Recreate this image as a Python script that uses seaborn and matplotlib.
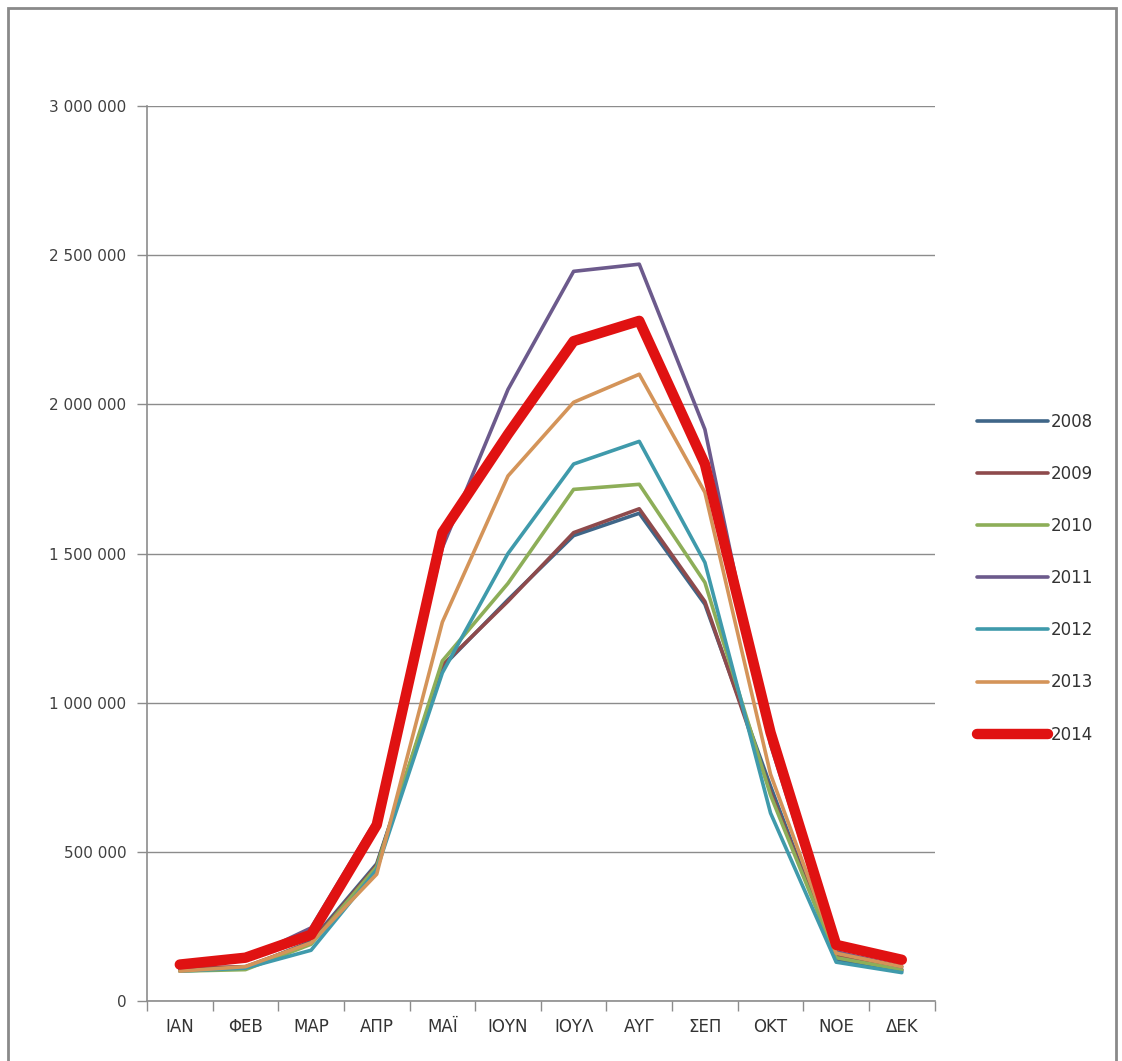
import matplotlib
matplotlib.use("Agg")
import matplotlib.pyplot as plt
import matplotlib.ticker as mticker
from matplotlib.patches import Rectangle
import pandas as pd
import seaborn as sns

months = ["ΙΑΝ", "ΦΕΒ", "ΜΑΡ", "ΑΠΡ", "ΜΑΪ", "ΙΟΥΝ", "ΙΟΥΛ", "ΑΥΓ", "ΣΕΠ", "ΟΚΤ", "ΝΟΕ", "ΔΕΚ"]
years = ["2008", "2009", "2010", "2011", "2012", "2013", "2014"]

arrivals_2008 = [105000, 110000, 200000, 460000, 1120000, 1345000, 1560000, 1635000, 1330000, 720000, 140000, 100000]
arrivals_2009 = [110000, 115000, 195000, 455000, 1125000, 1340000, 1570000, 1650000, 1339000, 700000, 150000, 105000]
arrivals_2010 = [100000, 105000, 190000, 450000, 1140000, 1400000, 1715000, 1732000, 1403000, 690000, 145000, 105000]
arrivals_2011 = [120000, 140000, 245000, 610000, 1520000, 2050000, 2446000, 2470000, 1916000, 860000, 165000, 115000]
arrivals_2012 = [100000, 110000, 170000, 440000, 1100000, 1500000, 1800000, 1876000, 1470000, 630000, 130000, 95000]
arrivals_2013 = [100000, 115000, 195000, 425000, 1270000, 1760000, 2007000, 2101000, 1705000, 760000, 160000, 115000]
arrivals_2014 = [122000, 145000, 222000, 590000, 1570000, 1900000, 2212000, 2280000, 1800000, 900000, 188000, 138000]

series = [arrivals_2008, arrivals_2009, arrivals_2010, arrivals_2011,
          arrivals_2012, arrivals_2013, arrivals_2014]

colors = {
    "2008": "#3F6688",
    "2009": "#8E4A4C",
    "2010": "#8DAE58",
    "2011": "#6C5A8C",
    "2012": "#3F9AAB",
    "2013": "#D49459",
    "2014": "#E01212",
}
widths = {y: 2.6 for y in years}
widths["2014"] = 7.5

df = pd.DataFrame({
    "month": months * len(years),
    "year": [y for y in years for _ in months],
    "arrivals": [v for s in series for v in s],
})

sns.set_theme(style="white")
plt.rcParams["font.family"] = ["DejaVu Sans"]

fig = plt.figure(figsize=(11.22, 10.61), dpi=100)
ax = fig.add_axes([0.131, 0.0566, 0.702, 0.8434])

for y in years:
    sub = df[df["year"] == y]
    sns.lineplot(data=sub, x="month", y="arrivals", ax=ax, color=colors[y],
                 linewidth=widths[y], label=y, sort=False,
                 solid_joinstyle="round", solid_capstyle="round")

ax.set_xlim(-0.5, len(months) - 0.5)
ax.set_ylim(0, 3000000)
ax.set_xlabel("")
ax.set_ylabel("")

ax.yaxis.set_major_locator(mticker.MultipleLocator(500000))
ax.yaxis.set_major_formatter(mticker.FuncFormatter(
    lambda v, p: f"{int(v):,}".replace(",", " ")))
ax.grid(axis="y", color="#8c8c8c", linewidth=1.0)
ax.set_axisbelow(True)

ax.set_xticks(range(len(months)))
ax.set_xticklabels(months)
ax.xaxis.set_minor_locator(mticker.FixedLocator([i - 0.5 for i in range(len(months) + 1)]))
ax.tick_params(axis="x", which="major", length=0, pad=12, labelsize=12, labelcolor="#333333")
ax.tick_params(axis="x", which="minor", length=7, width=1, color="#8c8c8c", direction="out")
ax.tick_params(axis="y", which="major", length=7, width=1, color="#8c8c8c", direction="out",
               pad=8, labelsize=11, labelcolor="#404040")
ax.xaxis.set_ticks_position("bottom")
ax.yaxis.set_ticks_position("left")

for side in ["top", "right"]:
    ax.spines[side].set_visible(False)
for side in ["left", "bottom"]:
    ax.spines[side].set_color("#8c8c8c")
    ax.spines[side].set_linewidth(1.2)

leg = ax.legend(loc="upper left", bbox_to_anchor=(1.045, 0.665), frameon=False,
                fontsize=12, handlelength=4.3, handletextpad=0.15,
                labelspacing=2.05, borderaxespad=0)
for t in leg.get_texts():
    t.set_color("#333333")

fig.patches.append(Rectangle((0.007, -0.05), 0.988, 1.042, transform=fig.transFigure,
                             fill=False, edgecolor="#8a8a8a", linewidth=2.0))

fig.savefig("out.png", dpi=100, facecolor="white")
